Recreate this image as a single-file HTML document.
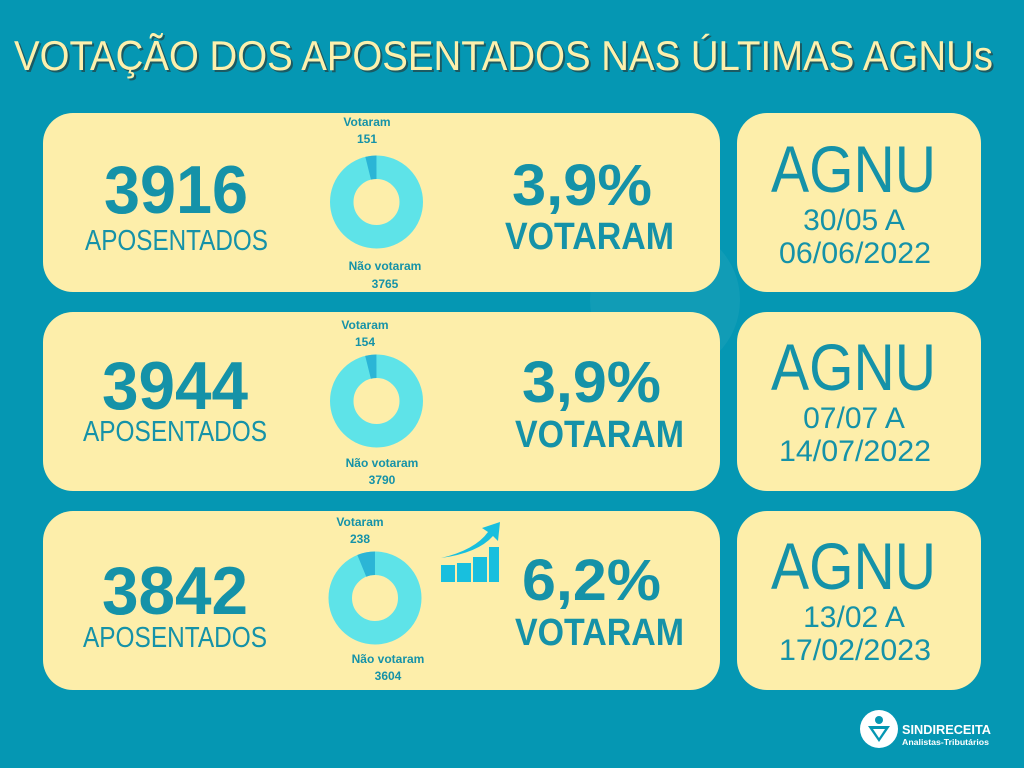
<!DOCTYPE html>
<html><head><meta charset="utf-8"><style>
html,body{margin:0;padding:0;background:#0597b3;}
svg{display:block}
text{font-family:"Liberation Sans",sans-serif;}
</style></head><body>
<svg width="1024" height="768" viewBox="0 0 1024 768" xmlns="http://www.w3.org/2000/svg">
<rect width="1024" height="768" fill="#0597b3"/>
<circle cx="665" cy="300" r="75" fill="#ffffff" opacity="0.05"/>
<text x="16" y="72" font-size="42" fill="#1b5a63" textLength="979" lengthAdjust="spacingAndGlyphs">VOTAÇÃO DOS APOSENTADOS NAS ÚLTIMAS AGNUs</text>
<text x="14" y="70" font-size="42" fill="#fdf0ad" textLength="979" lengthAdjust="spacingAndGlyphs">VOTAÇÃO DOS APOSENTADOS NAS ÚLTIMAS AGNUs</text>

<g fill="#fdeeaa">
<rect x="43" y="113" width="677" height="179" rx="30"/>
<rect x="737" y="113" width="244" height="179" rx="30"/>
<rect x="43" y="312" width="677" height="179" rx="30"/>
<rect x="737" y="312" width="244" height="179" rx="30"/>
<rect x="43" y="511" width="677" height="179" rx="30"/>
<rect x="737" y="511" width="244" height="179" rx="30"/>
</g>

<g fill="#1592a8">
<text x="104" y="213" font-size="68" font-weight="bold" textLength="144" lengthAdjust="spacingAndGlyphs">3916</text>
<text x="85" y="250" font-size="29" textLength="183" lengthAdjust="spacingAndGlyphs">APOSENTADOS</text>
<text x="512" y="205" font-size="58" font-weight="bold" textLength="140" lengthAdjust="spacingAndGlyphs">3,9%</text>
<text x="505" y="249" font-size="38" font-weight="bold" textLength="169" lengthAdjust="spacingAndGlyphs">VOTARAM</text>
<text x="771" y="192" font-size="66" textLength="165" lengthAdjust="spacingAndGlyphs">AGNU</text>
<text x="854" y="230" font-size="30" text-anchor="middle">30/05 A</text>
<text x="779" y="263" font-size="30" textLength="152" lengthAdjust="spacingAndGlyphs">06/06/2022</text>
<text x="367" y="126" font-size="12" font-weight="bold" text-anchor="middle">Votaram</text>
<text x="367" y="143" font-size="12" font-weight="bold" text-anchor="middle">151</text>
<text x="385" y="270" font-size="12" font-weight="bold" text-anchor="middle">Não votaram</text>
<text x="385" y="288" font-size="12" font-weight="bold" text-anchor="middle">3765</text>

<text x="102" y="409" font-size="68" font-weight="bold" textLength="146" lengthAdjust="spacingAndGlyphs">3944</text>
<text x="83" y="441" font-size="29" textLength="184" lengthAdjust="spacingAndGlyphs">APOSENTADOS</text>
<text x="522" y="402" font-size="58" font-weight="bold" textLength="139" lengthAdjust="spacingAndGlyphs">3,9%</text>
<text x="515" y="447" font-size="38" font-weight="bold" textLength="169" lengthAdjust="spacingAndGlyphs">VOTARAM</text>
<text x="771" y="390" font-size="66" textLength="165" lengthAdjust="spacingAndGlyphs">AGNU</text>
<text x="854" y="428" font-size="30" text-anchor="middle">07/07 A</text>
<text x="779" y="461" font-size="30" textLength="152" lengthAdjust="spacingAndGlyphs">14/07/2022</text>
<text x="365" y="329" font-size="12" font-weight="bold" text-anchor="middle">Votaram</text>
<text x="365" y="346" font-size="12" font-weight="bold" text-anchor="middle">154</text>
<text x="382" y="467" font-size="12" font-weight="bold" text-anchor="middle">Não votaram</text>
<text x="382" y="484" font-size="12" font-weight="bold" text-anchor="middle">3790</text>

<text x="102" y="614" font-size="68" font-weight="bold" textLength="146" lengthAdjust="spacingAndGlyphs">3842</text>
<text x="83" y="647" font-size="29" textLength="184" lengthAdjust="spacingAndGlyphs">APOSENTADOS</text>
<text x="522" y="600" font-size="58" font-weight="bold" textLength="139" lengthAdjust="spacingAndGlyphs">6,2%</text>
<text x="515" y="645" font-size="38" font-weight="bold" textLength="169" lengthAdjust="spacingAndGlyphs">VOTARAM</text>
<text x="771" y="589" font-size="66" textLength="165" lengthAdjust="spacingAndGlyphs">AGNU</text>
<text x="854" y="627" font-size="30" text-anchor="middle">13/02 A</text>
<text x="779" y="660" font-size="30" textLength="152" lengthAdjust="spacingAndGlyphs">17/02/2023</text>
<text x="360" y="526" font-size="12" font-weight="bold" text-anchor="middle">Votaram</text>
<text x="360" y="543" font-size="12" font-weight="bold" text-anchor="middle">238</text>
<text x="388" y="663" font-size="12" font-weight="bold" text-anchor="middle">Não votaram</text>
<text x="388" y="680" font-size="12" font-weight="bold" text-anchor="middle">3604</text>
</g>

<g fill="none" stroke-width="23.5">
<circle cx="376.5" cy="202" r="34.75" stroke="#5ee3e8"/>
<circle cx="376.5" cy="202" r="34.75" stroke="#2bb5d6" stroke-dasharray="8.43 300" transform="rotate(-103.9 376.5 202)"/>
<circle cx="376.5" cy="401" r="34.75" stroke="#5ee3e8"/>
<circle cx="376.5" cy="401" r="34.75" stroke="#2bb5d6" stroke-dasharray="8.52 300" transform="rotate(-104.1 376.5 401)"/>
<circle cx="375" cy="598" r="34.75" stroke="#5ee3e8"/>
<circle cx="375" cy="598" r="34.75" stroke="#2bb5d6" stroke-dasharray="13.5 300" transform="rotate(-112.3 375 598)"/>
</g>

<g fill="#18bfde">
<rect x="441" y="565" width="14" height="17"/>
<rect x="457" y="563" width="14" height="19"/>
<rect x="473" y="557" width="14" height="25"/>
<rect x="489" y="547" width="10" height="35"/>
<path d="M441 558 Q475 550 488 532 L482 528 L500 522 L498 541 L493 536 Q478 553 441 558 Z"/>
</g>

<circle cx="879" cy="729" r="19" fill="#ffffff"/>
<circle cx="879" cy="720" r="4" fill="#0597b3"/>
<path d="M868 726 L890 726 L879 742 Z" fill="#0597b3"/>
<path d="M873 729 L885 729 L879 738 Z" fill="#ffffff"/>
<text x="902" y="734" font-size="12.5" font-weight="bold" fill="#ffffff" textLength="89" lengthAdjust="spacingAndGlyphs">SINDIRECEITA</text>
<text x="902" y="745" font-size="8.5" font-weight="bold" fill="#ffffff" textLength="87" lengthAdjust="spacingAndGlyphs">Analistas-Tributários</text>
</svg>
</body></html>
